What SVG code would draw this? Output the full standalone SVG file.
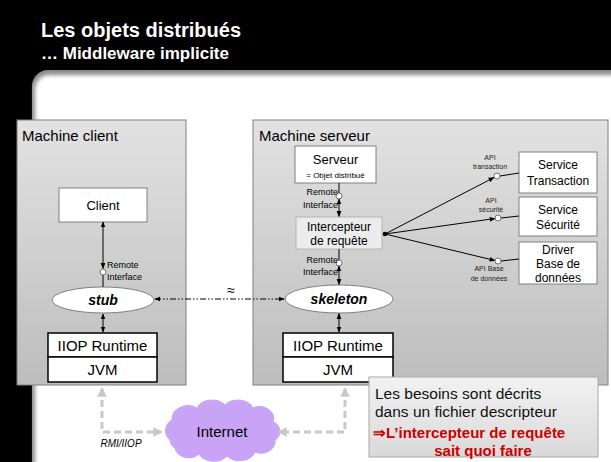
<svg xmlns="http://www.w3.org/2000/svg" width="611" height="462" viewBox="0 0 611 462">
  <style>
    text { font-family: "Liberation Sans", Arial, sans-serif; fill: #000; }
    .title { fill: #fff; font-weight: bold; }
    .machine { fill: url(#machineGrad); stroke: #808080; stroke-width: 1; }
    .box { fill: #fff; stroke: #808080; stroke-width: 1; }
    .stack { fill: #fff; stroke: #000; stroke-width: 1.5; }
    .orb { fill: #fff; stroke: #808080; stroke-width: 1; }
    .lbl13 { font-size: 13px; text-anchor: middle; }
    .lbl12 { font-size: 12px; text-anchor: middle; }
    .lbl15 { font-size: 15px; text-anchor: middle; }
    .tiny { font-size: 9px; }
    .api { font-size: 7px; text-anchor: middle; fill: #222; }
    .link { stroke: #000; stroke-width: 1; fill: none; }
    .port { fill: #fff; stroke: #555; stroke-width: 0.8; }
    .net { stroke: #c8c8c8; stroke-width: 3; stroke-dasharray: 7 4; fill: none; }
    .note { font-size: 15.5px; fill: #111; }
    .noteRed { font-size: 15px; font-weight: bold; fill: #cc0000; }
  </style>
  <defs>
    <linearGradient id="machineGrad" x1="0" y1="0" x2="0" y2="1">
      <stop offset="0" stop-color="#e2e2e2"/>
      <stop offset="1" stop-color="#bdbdbd"/>
    </linearGradient>
    <linearGradient id="noteGrad" x1="0" y1="0" x2="0" y2="1">
      <stop offset="0" stop-color="#f2f2f2"/>
      <stop offset="1" stop-color="#d9d9d9"/>
    </linearGradient>
    <filter id="soft" x="-5%" y="-5%" width="110%" height="110%">
      <feGaussianBlur stdDeviation="2.2"/>
    </filter>
    <marker id="arr" viewBox="0 0 10 10" refX="9" refY="5" markerWidth="6" markerHeight="6" orient="auto-start-reverse">
      <path d="M0,1 L10,5 L0,9 z" fill="#000"/>
    </marker>
    <marker id="arrGrey" viewBox="0 0 10 10" refX="8" refY="5" markerWidth="3.2" markerHeight="3.2" orient="auto-start-reverse">
      <path d="M0,0 L10,5 L0,10 z" fill="#c8c8c8"/>
    </marker>
  </defs>

  <!-- page background -->
  <rect x="0" y="0" width="611" height="462" fill="#000"/>
  <rect x="32" y="70" width="620" height="420" rx="16" fill="#8a8a8a"/>
  <rect x="35" y="75" width="620" height="420" rx="14" fill="#fff" filter="url(#soft)"/>

  <!-- heading -->
  <text class="title" x="41" y="37" font-size="20">Les objets distribués</text>
  <text class="title" x="41" y="59" font-size="17">… Middleware implicite</text>

  <!-- client machine -->
  <g id="machine-client">
    <rect class="machine" x="17" y="120" width="169" height="265"/>
    <text x="22" y="141" font-size="15">Machine client</text>
  </g>

  <!-- server machine -->
  <g id="machine-serveur">
    <rect class="machine" x="253" y="120" width="355" height="265"/>
    <text x="259" y="141" font-size="15">Machine serveur</text>
  </g>

  <g id="client">
    <rect class="box" x="59" y="188" width="88" height="34"/>
    <text class="lbl13" x="103" y="210">Client</text>
  </g>

  <g id="stub">
    <ellipse class="orb" cx="103" cy="300" rx="51" ry="13"/>
    <text x="103" y="305" font-size="14" font-weight="bold" font-style="italic" text-anchor="middle">stub</text>
  </g>

  <g id="client-runtime">
    <rect class="stack" x="48" y="333" width="109" height="24"/>
    <text class="lbl15" x="102.5" y="351">IIOP Runtime</text>
    <rect class="stack" x="48" y="357" width="109" height="25"/>
    <text class="lbl15" x="102.5" y="375">JVM</text>
  </g>

  <g id="serveur">
    <rect class="box" x="295" y="146" width="81" height="37"/>
    <text class="lbl13" x="335.5" y="164">Serveur</text>
    <text x="335.5" y="178" font-size="8" text-anchor="middle">= Objet distribué</text>
  </g>

  <g id="intercepteur">
    <rect x="296" y="217" width="86" height="32" fill="#ececec" stroke="#b4b4b4" stroke-width="1"/>
    <text class="lbl12" x="339" y="231">Intercepteur</text>
    <text class="lbl12" x="339" y="245">de requête</text>
  </g>

  <g id="skeleton">
    <ellipse class="orb" cx="339" cy="299" rx="54" ry="14"/>
    <text x="339" y="304" font-size="14" font-weight="bold" font-style="italic" text-anchor="middle">skeleton</text>
  </g>

  <g id="serveur-runtime">
    <rect class="stack" x="283" y="333" width="110" height="24"/>
    <text class="lbl15" x="338" y="351">IIOP Runtime</text>
    <rect class="stack" x="283" y="357" width="110" height="25"/>
    <text class="lbl15" x="338" y="375">JVM</text>
  </g>

  <g id="service-transaction">
    <rect class="box" x="519" y="152" width="78" height="41"/>
    <text class="lbl12" x="558" y="169">Service</text>
    <text class="lbl12" x="558" y="185">Transaction</text>
  </g>

  <g id="service-securite">
    <rect class="box" x="519" y="197" width="78" height="39"/>
    <text class="lbl12" x="558" y="214">Service</text>
    <text class="lbl12" x="558" y="229">Sécurité</text>
  </g>

  <g id="driver-bd">
    <rect class="box" x="519" y="242" width="78" height="42"/>
    <text class="lbl12" x="558" y="254">Driver</text>
    <text class="lbl12" x="558" y="268">Base de</text>
    <text class="lbl12" x="558" y="282">données</text>
  </g>

  <g id="internet">
    <path d="M170,440 a12,12 0 0,1 2,-20 a16,14 0 0,1 25,-12 a16,12 0 0,1 28,-3 a16,12 0 0,1 28,3 a14,12 0 0,1 20,14 a10,10 0 0,1 2,18 a14,12 0 0,1 -20,12 a16,12 0 0,1 -28,4 a16,12 0 0,1 -28,-2 a14,12 0 0,1 -24,-6 a10,10 0 0,1 -5,-8 z" fill="#c9a3f5" stroke="#c9a3f5" stroke-width="1"/>
    <text class="lbl15" x="222" y="437">Internet</text>
  </g>

  <g id="note">
    <rect x="369" y="377" width="229" height="80" fill="url(#noteGrad)" stroke="#a8a8a8" stroke-width="1"/>
    <text class="note" x="375" y="399">Les besoins sont décrits</text>
    <text class="note" x="375" y="417">dans un fichier descripteur</text>
    <text class="noteRed" x="373" y="438">⇒L’intercepteur de requête</text>
    <text class="noteRed" x="483" y="456" text-anchor="middle">sait quoi faire</text>
  </g>

  <g id="connectors">
    <!-- client side -->
    <line class="link" x1="103" y1="222" x2="103" y2="268.5" marker-start="url(#arr)" marker-end="url(#arr)"/>
    <line class="link" x1="103" y1="275" x2="103" y2="287"/>
    <circle class="port" cx="103" cy="272" r="3"/>
    <text class="tiny" x="107" y="268">Remote</text>
    <text class="tiny" x="107" y="280">Interface</text>
    <line class="link" x1="103" y1="314" x2="103" y2="332" marker-start="url(#arr)" marker-end="url(#arr)"/>

    <!-- server side -->
    <line class="link" x1="339" y1="183" x2="339" y2="193"/>
    <circle class="port" cx="339" cy="196" r="3"/>
    <line class="link" x1="339" y1="199" x2="339" y2="216.5" marker-start="url(#arr)" marker-end="url(#arr)"/>
    <text class="tiny" x="338" y="195" text-anchor="end">Remote</text>
    <text class="tiny" x="338" y="208" text-anchor="end">Interface</text>

    <line class="link" x1="339" y1="249" x2="339" y2="260"/>
    <circle class="port" cx="339" cy="263" r="3"/>
    <line class="link" x1="339" y1="266" x2="339" y2="284.5" marker-start="url(#arr)" marker-end="url(#arr)"/>
    <text class="tiny" x="338" y="263" text-anchor="end">Remote</text>
    <text class="tiny" x="338" y="275" text-anchor="end">Interface</text>
    <line class="link" x1="339" y1="313.5" x2="339" y2="332" marker-start="url(#arr)" marker-end="url(#arr)"/>

    <!-- stub / skeleton equivalence -->
    <line class="link" x1="155" y1="299" x2="284" y2="299" stroke-dasharray="6 2 1.5 2 1.5 2" marker-start="url(#arr)" marker-end="url(#arr)"/>
    <text x="231" y="295" font-size="14" text-anchor="middle">≈</text>

    <!-- interceptor to services -->
    <circle cx="385" cy="234" r="2.3" fill="#000"/>
    <line class="link" x1="385" y1="234" x2="494" y2="177.5" marker-end="url(#arr)"/>
    <line class="link" x1="385" y1="234" x2="495" y2="218.5" marker-end="url(#arr)"/>
    <line class="link" x1="385" y1="234" x2="495" y2="260.5" marker-end="url(#arr)"/>
    <line class="link" x1="500" y1="176" x2="519" y2="173"/>
    <line class="link" x1="501" y1="218" x2="519" y2="216"/>
    <line class="link" x1="501" y1="261" x2="519" y2="259"/>
    <circle class="port" cx="497" cy="176" r="3"/>
    <circle class="port" cx="498" cy="218" r="3"/>
    <circle class="port" cx="498" cy="261" r="3"/>
    <text class="api" x="490" y="160">API</text>
    <text class="api" x="490" y="169">transaction</text>
    <text class="api" x="491" y="203">API</text>
    <text class="api" x="491" y="212">sécurité</text>
    <text class="api" x="489" y="271">API Base</text>
    <text class="api" x="489" y="281">de données</text>

    <!-- network links -->
    <path class="net" d="M102,389 L102,432 L161,432" marker-start="url(#arrGrey)" marker-end="url(#arrGrey)"/>
    <path class="net" d="M345,389 L345,432 L279,432" marker-start="url(#arrGrey)" marker-end="url(#arrGrey)"/>
    <text x="121" y="447" font-size="10" font-style="italic" fill="#333" text-anchor="middle">RMI/IIOP</text>
  </g>
</svg>
